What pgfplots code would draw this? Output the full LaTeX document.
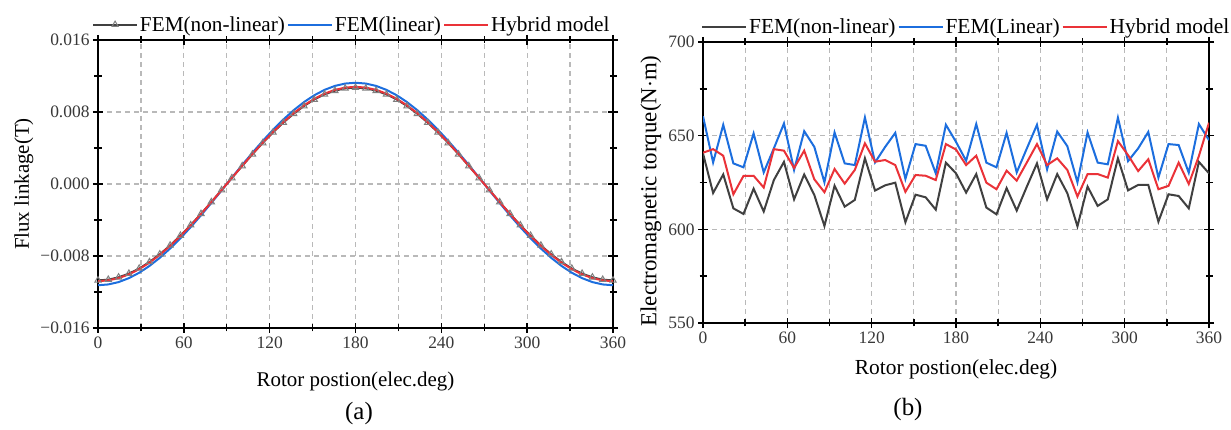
\documentclass[border=0pt]{standalone}
\usepackage{fontspec}
\setmainfont{Liberation Serif}
\usepackage{pgfplots}
\usepackage{pgfplotstable}
\pgfplotsset{compat=1.18}
\definecolor{cblk}{RGB}{64,64,64}
\definecolor{cblu}{RGB}{28,110,222}
\definecolor{cred}{RGB}{234,50,56}
\definecolor{cgrid}{RGB}{185,185,185}

\pgfplotstableread{
x nl lin hyb
0 -0.01070 -0.01125 -0.01080
7.2 -0.01062 -0.01116 -0.01071
14.4 -0.01036 -0.01090 -0.01046
21.6 -0.00995 -0.01046 -0.01004
28.8 -0.00938 -0.00986 -0.00946
36 -0.00866 -0.00910 -0.00874
43.2 -0.00780 -0.00820 -0.00787
50.4 -0.00682 -0.00717 -0.00688
57.6 -0.00573 -0.00603 -0.00579
64.8 -0.00456 -0.00479 -0.00460
72 -0.00331 -0.00348 -0.00334
79.2 -0.00200 -0.00211 -0.00202
86.4 -0.00067 -0.00071 -0.00068
93.6 0.00067 0.00071 0.00068
100.8 0.00200 0.00211 0.00202
108 0.00331 0.00348 0.00334
115.2 0.00456 0.00479 0.00460
122.4 0.00573 0.00603 0.00579
129.6 0.00682 0.00717 0.00688
136.8 0.00780 0.00820 0.00787
144 0.00866 0.00910 0.00874
151.2 0.00938 0.00986 0.00946
158.4 0.00995 0.01046 0.01004
165.6 0.01036 0.01090 0.01046
172.8 0.01062 0.01116 0.01071
180 0.01070 0.01125 0.01080
187.2 0.01062 0.01116 0.01071
194.4 0.01036 0.01090 0.01046
201.6 0.00995 0.01046 0.01004
208.8 0.00938 0.00986 0.00946
216 0.00866 0.00910 0.00874
223.2 0.00780 0.00820 0.00787
230.4 0.00682 0.00717 0.00688
237.6 0.00573 0.00603 0.00579
244.8 0.00456 0.00479 0.00460
252 0.00331 0.00348 0.00334
259.2 0.00200 0.00211 0.00202
266.4 0.00067 0.00071 0.00068
273.6 -0.00067 -0.00071 -0.00068
280.8 -0.00200 -0.00211 -0.00202
288 -0.00331 -0.00348 -0.00334
295.2 -0.00456 -0.00479 -0.00460
302.4 -0.00573 -0.00603 -0.00579
309.6 -0.00682 -0.00717 -0.00688
316.8 -0.00780 -0.00820 -0.00787
324 -0.00866 -0.00910 -0.00874
331.2 -0.00938 -0.00986 -0.00946
338.4 -0.00995 -0.01046 -0.01004
345.6 -0.01036 -0.01090 -0.01046
352.8 -0.01062 -0.01116 -0.01071
360 -0.01070 -0.01125 -0.01080
}\fluxdata

\pgfplotstableread{
x nl lin hyb
0 640.5 660.4 640.9
7.2 619.4 635.7 642.8
14.4 629.3 655.8 639.3
21.6 611.2 635.2 618.7
28.8 608.2 633.1 628.5
36 621.7 651.2 628.6
43.2 609.5 630.4 622.3
50.4 626.3 643.2 642.8
57.6 636.0 656.5 642.0
64.8 616.0 631.7 632.7
72 629.3 652.4 642.0
79.2 618.3 644.0 626.7
86.4 601.8 625.1 619.8
93.6 623.3 651.7 632.2
100.8 612.1 635.2 624.4
108 615.7 634.3 631.7
115.2 637.9 659.7 645.9
122.4 620.7 635.7 636.1
129.6 623.5 644.0 637.0
136.8 624.9 651.5 634.3
144 603.8 626.9 620.0
151.2 618.5 645.5 629.0
158.4 617.1 644.6 628.6
165.6 610.5 629.9 626.3
172.8 635.6 655.8 645.5
180 629.9 646.7 642.6
187.2 619.6 636.6 634.3
194.4 629.5 656.2 639.3
201.6 611.6 635.6 624.9
208.8 608.0 633.1 621.4
216 622.0 651.5 631.3
223.2 610.0 630.4 626.0
230.4 622.8 643.2 635.7
237.6 635.2 655.8 645.5
244.8 616.0 632.0 634.3
252 629.5 652.2 637.9
259.2 619.3 644.4 631.7
266.4 601.6 625.1 617.5
273.6 622.8 651.7 629.5
280.8 612.5 635.6 629.5
288 616.0 634.7 627.6
295.2 637.9 659.6 647.1
302.4 620.8 636.4 639.6
309.6 623.7 643.2 631.1
316.8 623.7 652.0 637.4
324 604.1 627.6 621.4
331.2 618.7 645.5 623.2
338.4 617.8 645.0 635.6
345.6 611.2 630.2 624.2
352.8 636.0 656.2 639.1
360 629.9 647.6 656.9
}\torquedata

\pgfplotsset{
  common/.style={
    scale only axis,
    anchor=south west,
    axis line style={line width=1.8bp, black},
    every tick/.style={line width=1.4bp, black},
    major tick length=10bp,
    minor tick length=7bp,
    tick align=center,
    xmin=0, xmax=360,
    xtick={0,60,...,360},
    minor xtick={30,90,...,330},
    xmajorgrids, xminorgrids, ymajorgrids,
    major grid style={cgrid, line width=1.3bp, dash pattern=on 5bp off 4bp},
    minor grid style={cgrid, line width=1.3bp, dash pattern=on 5bp off 4bp},
    tick label style={font=\fontsize{17.5}{20}\selectfont, text=black!78},
    /pgf/number format/assume math mode=true,
    xlabel={Rotor postion(elec.deg)},
    every axis x label/.style={at={(axis description cs:0.5,0)}, anchor=north, yshift=-40bp, font=\fontsize{21}{24}\selectfont},
    legend columns=3,
    legend cell align=left,
    legend style={draw=none, fill=none, font=\fontsize{21}{24}\selectfont,
      at={(0,1)}, anchor=south west, inner sep=0pt,
      nodes={inner xsep=2bp, inner ysep=1bp}},
    legend image code/.code={\draw[##1,mark repeat=2,mark phase=2] plot coordinates {(0bp,0bp) (22bp,0bp) (44bp,0bp)};},
  }
}

\begin{document}
\begin{tikzpicture}
\useasboundingbox (0,0) rectangle (1231bp,430bp);

\begin{axis}[common,
  at={(98bp,102bp)}, width=515bp, height=288bp,
  ymin=-0.016, ymax=0.016,
  scaled y ticks=false,
  ytick={-0.016,-0.008,0,0.008,0.016},
  yticklabels={−0.016,−0.008,0.000,0.008,0.016},
  minor ytick={-0.012,-0.004,0.004,0.012},
  ylabel={Flux linkage(T)},
  every axis y label/.style={at={(axis description cs:-0.1437,0.5)}, rotate=90, anchor=center, font=\fontsize{21}{24}\selectfont},
  legend style={xshift=-6bp, yshift=6bp, font=\fontsize{21.3}{24}\selectfont},
]
\addplot[cblk, line width=1.8bp, mark=triangle, mark size=3.6bp, mark options={solid, draw=black!50, fill=white, line width=1bp}] table[x=x, y=nl] {\fluxdata};
\addlegendentry{FEM(non-linear)}
\addplot[cblu, line width=2bp, mark=none] table[x=x, y=lin] {\fluxdata};
\addlegendentry{FEM(linear)}
\addplot[cred, line width=2bp, mark=none] table[x=x, y=hyb] {\fluxdata};
\addlegendentry{Hybrid model}
\end{axis}

\begin{axis}[common,
  at={(703bp,107bp)}, width=506bp, height=281bp,
  ymin=550, ymax=700,
  ytick={550,600,650,700},
  minor ytick={575,625,675},
  ylabel={Electromagnetic torque(N$\cdot$m)},
  every axis y label/.style={at={(axis description cs:-0.1028,0.47)}, rotate=90, anchor=center, font=\fontsize{23}{26}\selectfont},
  every axis x label/.style={at={(axis description cs:0.5,0)}, anchor=north, yshift=-33bp, font=\fontsize{21.5}{24}\selectfont},
  legend style={xshift=-2bp, yshift=6bp, font=\fontsize{21.5}{24}\selectfont},
]
\addplot[cblk, line width=2bp, mark=none] table[x=x, y=nl] {\torquedata};
\addlegendentry{FEM(non-linear)}
\addplot[cblu, line width=2bp, mark=none] table[x=x, y=lin] {\torquedata};
\addlegendentry{FEM(Linear)}
\addplot[cred, line width=2bp, mark=none] table[x=x, y=hyb] {\torquedata};
\addlegendentry{Hybrid model}
\end{axis}

\node[font=\fontsize{25}{28}\selectfont] at (359bp,16bp) {(a)};
\node[font=\fontsize{25}{28}\selectfont] at (908bp,20bp) {(b)};
\end{tikzpicture}
\end{document}
